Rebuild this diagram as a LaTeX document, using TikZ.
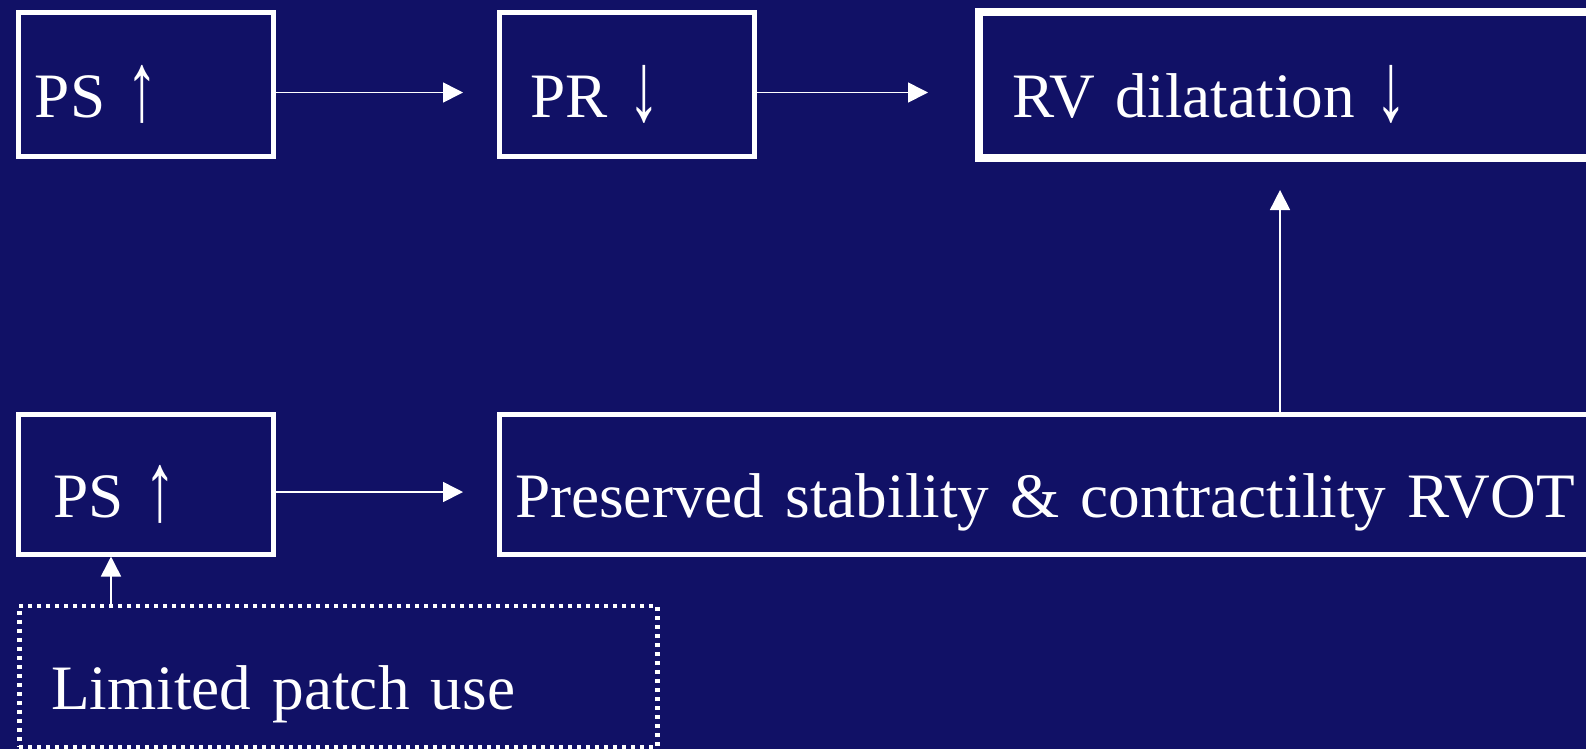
\documentclass[tikz,border=0pt]{standalone}
\usepackage{fontspec}
\setmainfont{Liberation Serif}
\usetikzlibrary{arrows.meta}
\definecolor{slidebg}{RGB}{17,17,102}
\newcommand{\tallup}{\raisebox{-0.03cm}{\scalebox{1}[1.55]{↑}}}
\newcommand{\talldown}{\raisebox{-0.03cm}{\scalebox{1}[1.55]{↓}}}

\begin{document}
\begin{tikzpicture}[
	box/.style={draw=white, line width=0.05cm, text=white, anchor=west, align=left,
		text height=0.66cm, text depth=0cm, font=\fontsize{18}{22}\selectfont},
	patchbox/.style={box, line width=0.045cm, dash pattern=on 0.04cm off 0.05cm},
	flow/.style={white, line width=0.016cm, -{Triangle[length=0.2cm, width=0.2cm]}},
]
	% Background
	\path[use as bounding box, fill=slidebg] (0,0) rectangle (15.86,7.49);

	% Top row
	\node[box, minimum height=1.44cm, inner xsep=0.17cm, text width=2.21cm] (ps1) at (0.155,6.645) {PS \tallup};
	\node[box, minimum height=1.44cm, inner xsep=0.31cm, text width=1.93cm] (pr) at (4.965,6.645) {PR \talldown};
	\node[box, line width=0.08cm, minimum height=1.46cm, inner xsep=0.33cm, text width=5.54cm] (rvd) at (9.75,6.645) {RV dilatation \talldown};

	% Bottom row
	\node[box, minimum height=1.40cm, inner xsep=0.35cm, text width=1.85cm] (ps2) at (0.155,2.65) {PS \tallup};
	\node[box, minimum height=1.40cm, inner xsep=0.16cm, text width=10.75cm] (pres) at (4.965,2.65) {Preserved stability \& contractility RVOT};
	\node[patchbox, minimum height=1.41cm, inner xsep=0.32cm, text width=5.74cm] (patch) at (0.17,0.725) {Limited patch use};

	% Free ends of the vertical arrows
	\coordinate (rvtip) at (12.80,5.59);
	\coordinate (patchx) at (1.11,0);

	% Connections (a little below the box middles)
	\draw[flow, shorten >=0.335cm] ([yshift=-0.08cm]ps1.east) -- ([yshift=-0.08cm]pr.west);
	\draw[flow, shorten >=0.47cm] ([yshift=-0.08cm]pr.east) -- ([yshift=-0.08cm]rvd.west);
	\draw[flow, shorten >=0.335cm] ([yshift=-0.08cm]ps2.east) -- ([yshift=-0.08cm]pres.west);
	\draw[flow] (rvtip |- pres.north) -- (rvtip);
	\draw[flow] (patch.north -| patchx) -- (ps2.south -| patchx);
\end{tikzpicture}
\end{document}
